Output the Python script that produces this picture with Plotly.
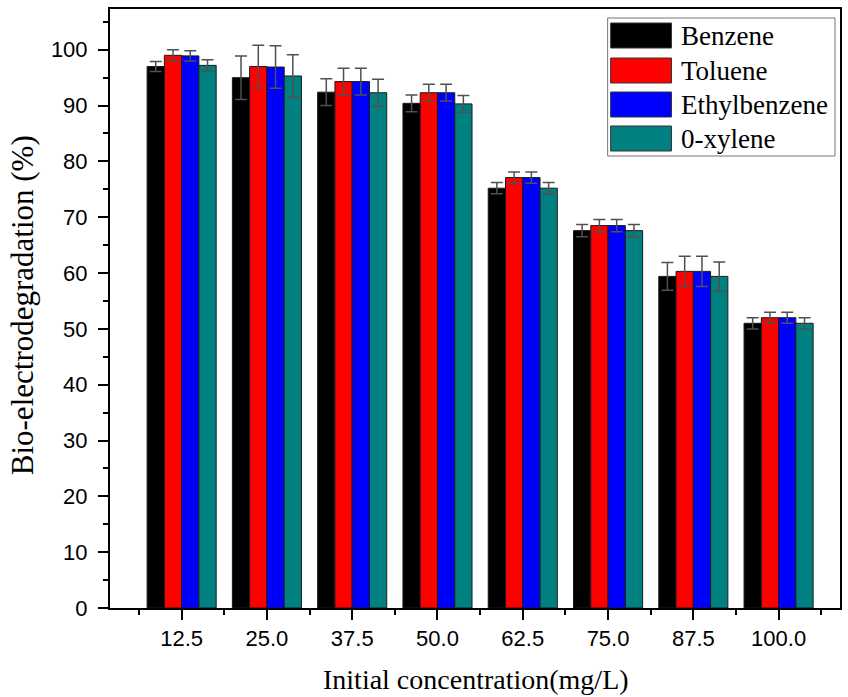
import plotly.graph_objects as go

# Initial concentration (mg/L) groups
categories = ["12.5", "25.0", "37.5", "50.0", "62.5", "75.0", "87.5", "100.0"]

# Bio-electrodegradation (%) per compound
series_names = ["Benzene", "Toluene", "Ethylbenzene", "0-xylene"]
benzene = [97.0, 95.0, 92.4, 90.4, 75.2, 67.6, 59.4, 51.0]
toluene = [99.0, 97.0, 94.3, 92.3, 77.1, 68.5, 60.3, 52.0]
ethylbenzene = [98.9, 96.9, 94.3, 92.3, 77.1, 68.5, 60.3, 52.0]
oxylene = [97.2, 95.3, 92.3, 90.3, 75.2, 67.6, 59.4, 51.0]

# Standard deviations
benzene_err = [0.9, 3.9, 2.4, 1.5, 1.0, 1.1, 2.5, 1.0]
toluene_err = [1.0, 3.8, 2.4, 1.5, 1.0, 1.1, 2.7, 1.0]
ethylbenzene_err = [0.9, 3.8, 2.4, 1.5, 1.0, 1.1, 2.7, 1.0]
oxylene_err = [1.0, 3.8, 2.4, 1.5, 1.0, 1.1, 2.6, 1.0]

colors = ["#000000", "#FF0000", "#0000FF", "#008080"]
values = [benzene, toluene, ethylbenzene, oxylene]
errors = [benzene_err, toluene_err, ethylbenzene_err, oxylene_err]

# plot area in pixels
W, H = 848, 697
L, R, T, B = 110, 842, 9, 608
pw, ph = R - L, B - T

def px(x):
    return (x - L) / pw

def py(y):
    return (B - y) / ph

xpos = list(range(len(categories)))

fig = go.Figure()
for name, col, vals, errs in zip(series_names, colors, values, errors):
    fig.add_trace(go.Bar(
        x=xpos, y=vals, name=name,
        marker=dict(color=col, line=dict(color="#1a1a1a", width=1)),
        error_y=dict(type="data", array=errs, visible=True,
                     color="#505050", thickness=1.5, width=6),
        showlegend=False,
    ))

serif = "Liberation Serif, Times New Roman, serif"
sans = "Liberation Sans, Arial, sans-serif"

# legend drawn as boxed swatches with labels
shapes = [dict(type="rect", xref="paper", yref="paper",
               x0=px(609), x1=px(837), y0=py(156), y1=py(18),
               line=dict(color="#777777", width=1), fillcolor="white", layer="above")]
annotations = []
row_tops = [23, 58, 92, 126]
for name, col, top in zip(series_names, colors, row_tops):
    shapes.append(dict(type="rect", xref="paper", yref="paper",
                       x0=px(612), x1=px(673), y0=py(top + 25), y1=py(top),
                       line=dict(color="#333333", width=1), fillcolor=col, layer="above"))
    annotations.append(dict(xref="paper", yref="paper", x=px(681), y=py(top + 12.5),
                            xanchor="left", yanchor="middle", showarrow=False,
                            text=name, font=dict(family=serif, size=27, color="black")))

# axis titles
annotations.append(dict(xref="paper", yref="paper", x=px(477), y=py(679),
                        xanchor="center", yanchor="middle", showarrow=False,
                        text="Initial concentration(mg/L)",
                        font=dict(family=serif, size=28, color="black")))
annotations.append(dict(xref="paper", yref="paper", x=px(22), y=py(305),
                        xanchor="center", yanchor="middle", showarrow=False,
                        textangle=-90, text="Bio-electrodegradation (%)",
                        font=dict(family=serif, size=31, color="black")))

fig.update_layout(
    width=W, height=H,
    margin=dict(l=L, r=W - R, t=T, b=H - B, pad=0),
    paper_bgcolor="white", plot_bgcolor="white",
    barmode="group", bargap=0.19, bargroupgap=0,
    shapes=shapes, annotations=annotations,
    showlegend=False,
)
fig.update_xaxes(
    range=[-0.84, 7.72], tickmode="array", tickvals=xpos, ticktext=categories,
    ticks="outside", ticklen=10, tickwidth=1.5, tickcolor="black",
    minor=dict(ticks="outside", ticklen=5, tickwidth=1.5, tickcolor="black",
               tickmode="array", tickvals=[i - 0.5 for i in range(len(categories) + 1)]),
    showline=True, linecolor="black", linewidth=2, mirror=True,
    showgrid=False, zeroline=False,
    tickfont=dict(family=sans, size=22, color="black"),
    ticklabelstandoff=0,
)
fig.update_yaxes(
    range=[0, 107.3], tick0=0, dtick=10,
    ticks="outside", ticklen=10, tickwidth=1.5, tickcolor="black",
    minor=dict(ticks="outside", ticklen=5, tickwidth=1.5, tickcolor="black", dtick=5),
    showline=True, linecolor="black", linewidth=2, mirror=True,
    showgrid=False, zeroline=False,
    tickfont=dict(family=sans, size=22, color="black"),
    ticklabelstandoff=6,
)

fig.write_html("out.html")
